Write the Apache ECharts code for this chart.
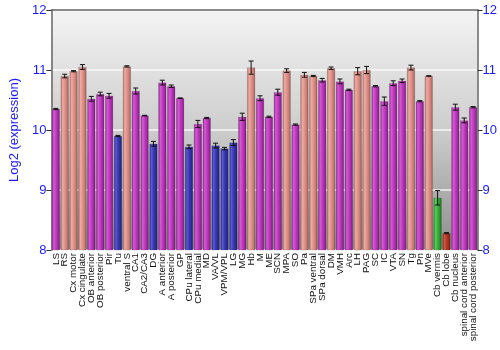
<!DOCTYPE html>
<html>
<head>
<meta charset="utf-8">
<style>
  html, body { margin: 0; padding: 0; background: #ffffff; }
  #chart { width: 500px; height: 350px; }
</style>
<script src="https://cdn.jsdelivr.net/npm/echarts@6/dist/echarts.min.js"></script>
</head>
<body>
<div id="chart"></div>
<script>
// Brain regions, in plotting order
const regions = [
  'LS', 'RS', 'Cx motor', 'Cx cingulate', 'OB anterior', 'OB posterior', 'Pir', 'Tu',
  'ventral S', 'CA1', 'CA2/CA3', 'DG', 'A anterior', 'A posterior', 'GP', 'CPu lateral',
  'CPu medial', 'MD', 'VA/VL', 'VPM/VPL', 'LG', 'MG', 'Hb', 'M', 'ME', 'SCN', 'MPA', 'SO',
  'Pa', 'SPa ventral', 'SPa dorsal', 'DM', 'VMH', 'Arc', 'LH', 'PAG', 'SC', 'IC', 'VTA', 'SN',
  'Tg', 'Pn', 'MVe', 'Cb vermis', 'Cb lobe', 'Cb nucleus', 'spinal cord anterior', 'spinal cord posterior'
];

// Mean log2 expression per region
const expression = [
  10.35, 10.90, 10.98, 11.05, 10.52, 10.60, 10.57, 9.90,
  11.06, 10.65, 10.24, 9.77, 10.79, 10.73, 10.53, 9.72,
  10.10, 10.20, 9.74, 9.69, 9.79, 10.22, 11.04, 10.53, 10.22, 10.63, 10.99, 10.09,
  10.92, 10.90, 10.83, 11.03, 10.81, 10.67, 10.98, 11.00, 10.73, 10.48, 10.78, 10.82,
  11.04, 10.48, 10.90, 8.87, 8.28, 10.38, 10.16, 10.38
];

// Standard error per region
const stdErr = [
  0.01, 0.03, 0.01, 0.04, 0.04, 0.03, 0.04, 0.01,
  0.01, 0.05, 0.005, 0.04, 0.04, 0.02, 0.005, 0.03,
  0.06, 0.01, 0.04, 0.02, 0.05, 0.06, 0.11, 0.04, 0.01, 0.05, 0.03, 0.01,
  0.04, 0.01, 0.03, 0.02, 0.04, 0.01, 0.06, 0.06, 0.01, 0.07, 0.04, 0.03,
  0.04, 0.01, 0.005, 0.12, 0.01, 0.05, 0.04, 0.01
];

// Colour group per region
const groups = [
  'm', 's', 's', 's', 'm', 'm', 'm', 'b',
  's', 'm', 'm', 'b', 'm', 'm', 'm', 'b',
  'm', 'm', 'b', 'b', 'b', 'm', 's', 'm', 'm', 'm', 's', 'm',
  's', 's', 'm', 's', 'm', 'm', 's', 's', 'm', 'm', 'm', 'm',
  's', 'm', 's', 'g', 'r', 'm', 'm', 'm'
];

const yTicks = [8, 9, 10, 11, 12];

// Cylinder-like horizontal shading for each colour group
const palettes = {
  m: ['#8a1c8a', '#d45ad4', '#c040c0', '#a426a4', '#6e106e'],
  s: ['#b06a62', '#eeaaa2', '#e0948c', '#c87a72', '#8e5048'],
  b: ['#22228a', '#5a5ad2', '#3a3ab4', '#2a2a98', '#18186a'],
  g: ['#1e801e', '#5ccc5c', '#3cb03c', '#2a922a', '#166016'],
  r: ['#8a2010', '#d05a44', '#b83a26', '#9c2a18', '#6a1608']
};

function shade(key) {
  const c = palettes[key];
  return {
    type: 'linear', x: 0, y: 0, x2: 1, y2: 0,
    colorStops: [
      { offset: 0, color: c[0] },
      { offset: 0.25, color: c[1] },
      { offset: 0.5, color: c[2] },
      { offset: 0.8, color: c[3] },
      { offset: 1, color: c[4] }
    ]
  };
}

const barData = expression.map((v, i) => ({
  value: v,
  itemStyle: { color: shade(groups[i]) }
}));

const errData = expression.map((v, i) => [i, v - stdErr[i], v + stdErr[i]]);

const blue = '#1a1aff';
const fontFamily = '"Liberation Sans", Arial, sans-serif';

const yAxisCommon = {
  type: 'value',
  min: 8,
  max: 12,
  interval: 1,
  axisLine: { show: true, lineStyle: { color: '#666666', width: 1.5 } },
  axisTick: { show: true, length: 5, lineStyle: { color: '#333333' } },
  axisLabel: { color: blue, fontSize: 13, fontFamily: fontFamily, margin: 5 },
  splitLine: { show: false }
};

const chart = echarts.init(document.getElementById('chart'), null, { renderer: 'canvas' });

chart.setOption({
  animation: false,
  grid: {
    left: 35, right: 20, top: 10, bottom: 100,
    show: true,
    borderWidth: 0,
    backgroundColor: {
      type: 'linear', x: 0, y: 0, x2: 0, y2: 1,
      colorStops: [
        { offset: 0, color: '#f4f4f4' },
        { offset: 0.5, color: '#cdcdcd' },
        { offset: 1, color: '#8e8e8e' }
      ]
    }
  },
  xAxis: [
    {
      type: 'category',
      data: regions,
      axisLine: { show: false },
      axisTick: { show: false },
      axisLabel: {
        rotate: 90, interval: 0, fontSize: 9.8, fontFamily: fontFamily,
        color: '#111111', margin: 3
      }
    },
    {
      type: 'category',
      data: regions,
      position: 'top',
      axisLine: { show: true, lineStyle: { color: '#666666', width: 1.5 } },
      axisTick: { show: false },
      axisLabel: { show: false }
    }
  ],
  yAxis: [
    Object.assign({}, yAxisCommon, {
      position: 'left',
      name: 'Log2 (expression)',
      nameLocation: 'middle',
      nameGap: 25,
      nameTextStyle: { color: blue, fontSize: 13, fontFamily: fontFamily },
      splitLine: { show: true, lineStyle: { color: 'rgba(255,255,255,0.85)', width: 1.5 } },
      axisLabel: {
        color: blue, fontSize: 13, fontFamily: fontFamily, margin: 5,
        formatter: v => (yTicks.includes(v) ? String(v) : '')
      }
    }),
    Object.assign({}, yAxisCommon, { position: 'right' })
  ],
  series: [
    {
      type: 'bar',
      data: barData,
      barCategoryGap: '10%',
      itemStyle: { borderColor: 'rgba(60,60,60,0.35)', borderWidth: 0.5 },
      z: 2
    },
    {
      type: 'custom',
      data: errData,
      z: 3,
      renderItem: function (params, api) {
        const x = api.value(0);
        const lo = api.coord([x, api.value(1)]);
        const hi = api.coord([x, api.value(2)]);
        const cap = 2.5;
        const style = { stroke: '#111111', lineWidth: 1 };
        return {
          type: 'group',
          children: [
            { type: 'line', shape: { x1: lo[0], y1: lo[1], x2: hi[0], y2: hi[1] }, style: style },
            { type: 'line', shape: { x1: lo[0] - cap, y1: lo[1], x2: lo[0] + cap, y2: lo[1] }, style: style },
            { type: 'line', shape: { x1: hi[0] - cap, y1: hi[1], x2: hi[0] + cap, y2: hi[1] }, style: style }
          ]
        };
      }
    }
  ]
});
</script>
</body>
</html>
